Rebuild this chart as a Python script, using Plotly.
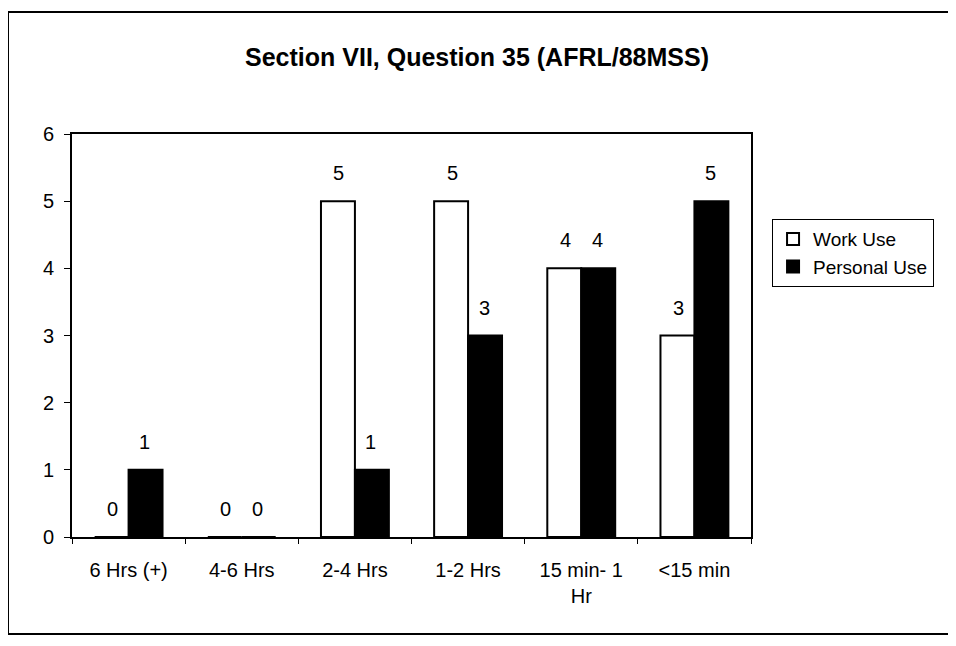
import plotly.graph_objects as go

categories = ["6 Hrs (+)", "4-6 Hrs", "2-4 Hrs", "1-2 Hrs", "15 min- 1<br>Hr", "<15 min"]
work_use = [0, 0, 5, 5, 4, 3]
personal_use = [1, 0, 1, 3, 4, 5]
y_ticks = [0, 1, 2, 3, 4, 5, 6]

FONT = "Liberation Sans, Arial, sans-serif"

fig = go.Figure()
fig.add_trace(go.Bar(
    name="Work Use", x=categories, y=work_use,
    marker=dict(color="white", line=dict(color="black", width=2)),
))
fig.add_trace(go.Bar(
    name="Personal Use", x=categories, y=personal_use,
    marker=dict(color="black", line=dict(color="black", width=2)),
))

# value labels above each bar
annotations = []
for series, shift in ((work_use, -16), (personal_use, 16)):
    for cat, v in zip(categories, series):
        annotations.append(dict(x=cat, y=v, xref="x", yref="y", text=str(v),
                                showarrow=False, xshift=shift, yshift=28,
                                font=dict(size=20, family=FONT, color="black")))

# page body has an 8px margin -> figure placed at (8, 8)
W, H = 948, 638
fig.update_layout(
    width=W, height=H,
    margin=dict(l=64, r=205, t=126, b=109),
    paper_bgcolor="white", plot_bgcolor="white",
    font=dict(family=FONT, size=20, color="black"),
    title=dict(text="<b>Section VII, Question 35 (AFRL/88MSS)</b>",
               x=(477 - 72) / 679, xanchor="center", y=1 - 49 / H, yanchor="middle",
               xref="paper", font=dict(size=25, family=FONT)),
    barmode="group", bargap=0.4, bargroupgap=0,
    showlegend=True,
    legend=dict(x=1.031, y=0.789, xanchor="left", yanchor="top",
                bordercolor="black", borderwidth=1, bgcolor="white",
                font=dict(size=19, family=FONT), tracegroupgap=6),
    annotations=annotations,
    xaxis=dict(showline=True, linecolor="black", linewidth=2, mirror=True,
               ticks="outside", tickson="boundaries", ticklen=5, tickcolor="black",
               showgrid=False, tickfont=dict(size=20), ticklabelstandoff=14),
    yaxis=dict(range=[0, 6], tickvals=y_ticks, showline=True, linecolor="black",
               linewidth=2, mirror=True, ticks="outside", ticklen=6,
               tickcolor="black", showgrid=False, zeroline=False,
               tickfont=dict(size=20), ticklabelstandoff=6),
)

# outer chart border
fig.add_shape(type="rect", xref="paper", yref="paper",
              x0=(8 - 72) / 679, x1=(952 - 72) / 679,
              y0=(537 - 634) / 403, y1=(537 - 12) / 403,
              line=dict(color="black", width=2), fillcolor="rgba(0,0,0,0)",
              layer="below")

fig.write_html("out.html")
